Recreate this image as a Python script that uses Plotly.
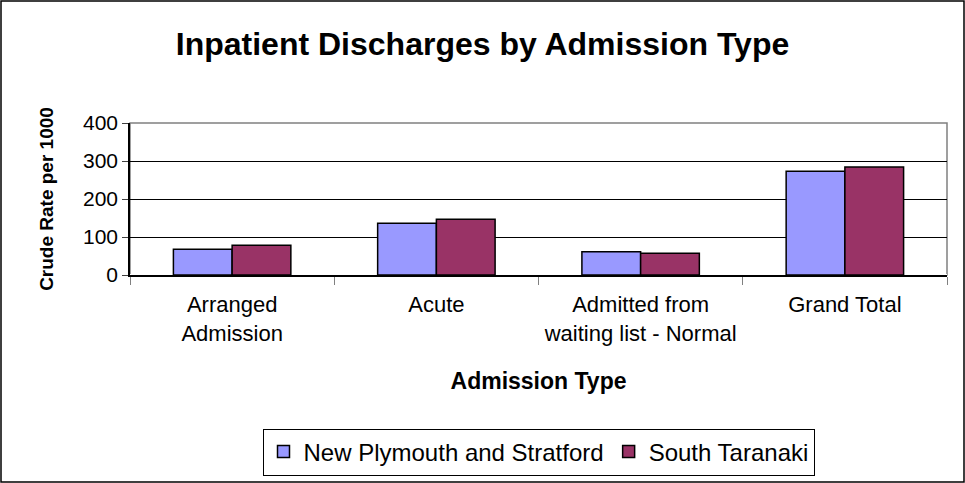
import plotly.graph_objects as go

categories = ["Arranged<br>Admission", "Acute", "Admitted from<br>waiting list - Normal", "Grand Total"]
new_plymouth = [68, 136, 61, 273]
south_taranaki = [78, 147, 57, 284]
y_ticks = [0, 100, 200, 300, 400]

FONT = "Liberation Sans, Arial, sans-serif"
W, H = 965, 483
M_L, M_R, M_T, M_B = 130, 18, 123, 208
plot_w = W - M_L - M_R
plot_h = H - M_T - M_B

fig = go.Figure()
fig.add_trace(go.Bar(
    x=categories, y=new_plymouth, name="New Plymouth and Stratford",
    marker=dict(color="#9999FF", line=dict(color="black", width=1.5)),
))
fig.add_trace(go.Bar(
    x=categories, y=south_taranaki, name="South Taranaki",
    marker=dict(color="#993366", line=dict(color="black", width=1.5)),
))

fig.update_layout(
    width=W, height=H,
    margin=dict(l=M_L, r=M_R, t=M_T, b=M_B, autoexpand=False),
    paper_bgcolor="white", plot_bgcolor="white",
    font=dict(family=FONT, color="black"),
    barmode="group", bargap=0.425, bargroupgap=0,
    title=dict(text="<b>Inpatient Discharges by Admission Type</b>",
               x=0.5, xref="container", xanchor="center", y=1 - 44 / H, yanchor="middle",
               font=dict(size=32, family=FONT)),
    showlegend=True,
    legend=dict(orientation="h", x=0.5, xanchor="center", y=-(452 - 275) / plot_h,
                yanchor="middle", bordercolor="black", borderwidth=1,
                font=dict(size=24, family=FONT), itemwidth=30, traceorder="normal"),
    xaxis=dict(
        tickson="boundaries", ticks="outside", ticklen=8, tickcolor="#808080",
        showline=True, linecolor="black", linewidth=1.5,
        tickfont=dict(size=22, family=FONT), ticklabelstandoff=9,
        title=dict(text="<b>Admission Type</b>", font=dict(size=23, family=FONT), standoff=28),
    ),
    yaxis=dict(
        range=[0, 400], tickvals=y_ticks, ticks="outside", ticklen=6, tickcolor="#404040",
        showline=True, linecolor="black", linewidth=1.5,
        showgrid=True, gridcolor="black", gridwidth=1,
        tickfont=dict(size=21, family=FONT),
        title=dict(text="<b>Crude Rate per 1000</b>", font=dict(size=19, family=FONT), standoff=24),
    ),
    shapes=[
        dict(type="rect", xref="paper", yref="paper", x0=0, x1=1, y0=0, y1=1,
             line=dict(color="#808080", width=1.5), layer="below"),
        dict(type="rect", xref="paper", yref="paper",
             x0=-(M_L - 1) / plot_w, x1=1 + (M_R - 1) / plot_w,
             y0=-(M_B - 1) / plot_h, y1=1 + (M_T - 1) / plot_h,
             line=dict(color="black", width=1.5)),
    ],
)

# the page body has a default 8px margin; drop it so the figure fills the window
fig.write_html("out.html", config={"displayModeBar": False},
               post_script="document.body.style.margin='0';")
